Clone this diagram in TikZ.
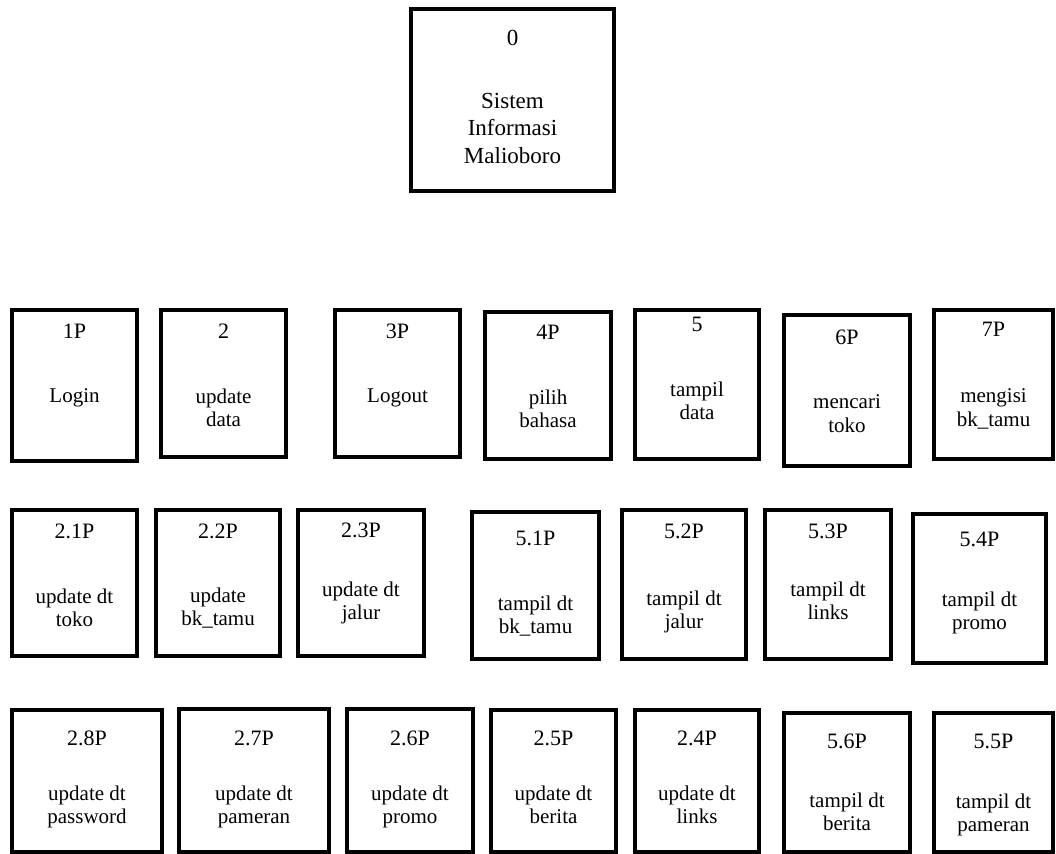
\documentclass[tikz,border=0pt]{standalone}
\usepackage{fontspec}
\setmainfont{Liberation Serif}
\usetikzlibrary{positioning}

\begin{document}
\begin{tikzpicture}[
  x=1pt, y=-1pt,
  every node/.style={inner sep=0pt},
  proc/.style={draw, line width=3.1pt},
  wh/.style 2 args={minimum width=#1pt, minimum height=#2pt},
  num/.style={font=\fontsize{22}{26}\selectfont},
  desc/.style={align=center, font=\fontsize{21}{23.5}\selectfont},
  big/.style={font=\fontsize{23}{27.5}\selectfont}
]
\useasboundingbox (0,0) rectangle (1056,853);

%% ---- TOP (level 0) ---------------------------------------------
\node[proc, wh={203}{182}] (p0) at (512.5,100) {};
\node[num, big] (n0) at (512.5,38) {0};
\node[desc, big, below=47pt of n0] (t0) {Sistem\\Informasi\\Malioboro};

%% ---- ROW 1 ------------------------------------------------------
\node[proc, wh={125}{151}] (p1) at (74.5,385.5) {};
\node[num] (n1) at (74.5,331) {1P};
\node[desc, below=50pt of n1] (t1) {Login};

\node[proc, wh={125}{147}] (p2) at (223.5,383.5) {};
\node[num] (n2) at (223.5,331) {2};
\node[desc, below=50pt of n2] (t2) {update\\data};

\node[proc, wh={125}{147}] (p3) at (397.5,383.5) {};
\node[num] (n3) at (397.5,331) {3P};
\node[desc, below=50pt of n3] (t3) {Logout};

\node[proc, wh={126}{147}] (p4) at (548,385.5) {};
\node[num] (n4) at (548,332) {4P};
\node[desc, below=50pt of n4] (t4) {pilih\\bahasa};

\node[proc, wh={124}{149}] (p5) at (697,384.5) {};
\node[num] (n5) at (697,324) {5};
\node[desc, below=50pt of n5] (t5) {tampil\\data};

\node[proc, wh={126}{151}] (p6) at (847,390.5) {};
\node[num] (n6) at (847,337) {6P};
\node[desc, below=50pt of n6] (t6) {mencari\\toko};

\node[proc, wh={119}{149}] (p7) at (993.5,384.5) {};
\node[num] (n7) at (993.5,329) {7P};
\node[desc, below=52pt of n7] (t7) {mengisi\\bk\_tamu};

%% ---- ROW 2 ------------------------------------------------------
\node[proc, wh={125}{146}] (p21) at (74.5,583) {};
\node[num] (n21) at (74.5,531) {2.1P};
\node[desc, below=50pt of n21] (t21) {update dt\\toko};

\node[proc, wh={124}{146}] (p22) at (218,583) {};
\node[num] (n22) at (218,531) {2.2P};
\node[desc, below=49pt of n22] (t22) {update\\bk\_tamu};

\node[proc, wh={126}{146}] (p23) at (361,583) {};
\node[num] (n23) at (361,530) {2.3P};
\node[desc, below=44pt of n23] (t23) {update dt\\jalur};

\node[proc, wh={127}{147}] (p51) at (535.5,585.5) {};
\node[num] (n51) at (535.5,538) {5.1P};
\node[desc, below=50pt of n51] (t51) {tampil dt\\bk\_tamu};

\node[proc, wh={124}{149}] (p52) at (684,584.5) {};
\node[num] (n52) at (684,531) {5.2P};
\node[desc, below=52pt of n52] (t52) {tampil dt\\jalur};

\node[proc, wh={126}{149}] (p53) at (828,584.5) {};
\node[num] (n53) at (828,531) {5.3P};
\node[desc, below=43pt of n53] (t53) {tampil dt\\links};

\node[proc, wh={133}{149}] (p54) at (979.5,588.5) {};
\node[num] (n54) at (979.5,539) {5.4P};
\node[desc, below=45pt of n54] (t54) {tampil dt\\promo};

%% ---- ROW 3 ------------------------------------------------------
\node[proc, wh={150}{142}] (p28) at (87,781) {};
\node[num] (n28) at (87,738) {2.8P};
\node[desc, below=40pt of n28] (t28) {update dt\\password};

\node[proc, wh={150}{143}] (p27) at (254,780.5) {};
\node[num] (n27) at (254,738) {2.7P};
\node[desc, below=40pt of n27] (t27) {update dt\\pameran};

\node[proc, wh={126}{143}] (p26) at (410,780.5) {};
\node[num] (n26) at (410,738) {2.6P};
\node[desc, below=40pt of n26] (t26) {update dt\\promo};

\node[proc, wh={125}{142}] (p25) at (553.5,781) {};
\node[num] (n25) at (553.5,738) {2.5P};
\node[desc, below=40pt of n25] (t25) {update dt\\berita};

\node[proc, wh={124}{142}] (p24) at (697,781) {};
\node[num] (n24) at (697,738) {2.4P};
\node[desc, below=40pt of n24] (t24) {update dt\\links};

\node[proc, wh={126}{139}] (p56) at (847,782.5) {};
\node[num] (n56) at (847,741) {5.6P};
\node[desc, below=44pt of n56] (t56) {tampil dt\\berita};

\node[proc, wh={119}{139}] (p55) at (993.5,782.5) {};
\node[num] (n55) at (993.5,741) {5.5P};
\node[desc, below=45pt of n55] (t55) {tampil dt\\pameran};

\end{tikzpicture}
\end{document}
